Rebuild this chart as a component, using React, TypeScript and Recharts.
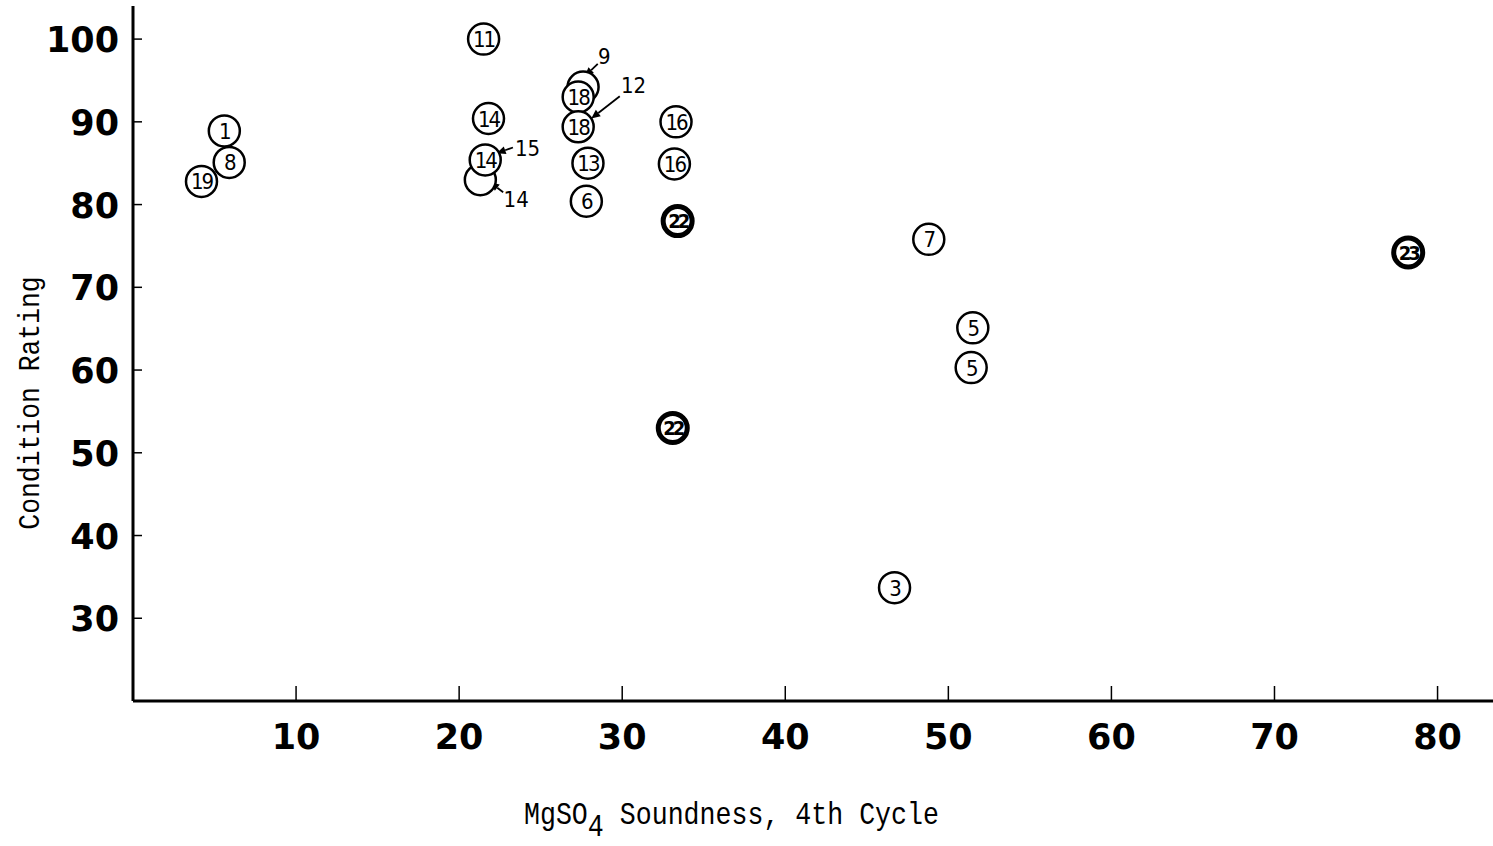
import { ScatterChart, Scatter, XAxis, YAxis, ReferenceLine } from "recharts";

// numbered sites, plain rings
const soundness = [5.6, 5.9, 4.2, 21.5, 21.8, 21.6, 27.3, 27.3, 27.9, 27.8, 33.3, 33.2, 48.8, 51.5, 51.4, 46.7];
const rating = [88.9, 85.1, 82.8, 100, 90.4, 85.4, 93.0, 89.4, 85.0, 80.4, 90.0, 84.9, 75.8, 65.1, 60.3, 33.7];
const siteNo = ["1", "8", "19", "11", "14", "14", "18", "18", "13", "6", "16", "16", "7", "5", "5", "3"];

// rings hidden behind others, numbered by a callout
const hiddenSoundness = [27.6, 21.3];
const hiddenRating = [94.2, 83.0];

// heavy rings
const heavySoundness = [33.4, 33.1, 78.2];
const heavyRating = [78.0, 53.0, 74.2];
const heavyNo = ["22", "22", "23"];

// callouts
const calloutText = ["9", "12", "15", "14"];
const calloutX = [28.9, 30.7, 24.2, 23.5];
const calloutY = [97.9, 94.4, 86.8, 80.7];
const arrowFromX = [28.5, 29.85, 23.3, 22.7];
const arrowFromY = [97.0, 93.1, 86.9, 81.5];
const arrowToX = [27.7, 28.1, 22.3, 21.9];
const arrowToY = [95.5, 90.4, 86.2, 82.7];

const xTicks = [10, 20, 30, 40, 50, 60, 70, 80];
const yTicks = [30, 40, 50, 60, 70, 80, 90, 100];

const tickFont = "'DejaVu Sans', sans-serif";
const ringFont = "'DejaVu Sans Condensed', 'DejaVu Sans', sans-serif";
const titleFont = "'Liberation Mono', monospace";

const plain = soundness.map((x, i) => ({ x, y: rating[i], no: siteNo[i] }));
const hidden = hiddenSoundness.map((x, i) => ({ x, y: hiddenRating[i], no: "" }));
const heavy = heavySoundness.map((x, i) => ({ x, y: heavyRating[i], no: heavyNo[i] }));
const callouts = calloutText.map((t, i) => ({ x: calloutX[i], y: calloutY[i], no: t }));

function Ring(props: any) {
  const { cx, cy, payload } = props;
  return (
    <g>
      <circle cx={cx} cy={cy} r={15.5} fill="#fff" stroke="#000" strokeWidth={2.5} />
      {payload.no && (
        <text x={cx} y={cy} dy={8} textAnchor="middle" fontSize={22} fontFamily={ringFont} letterSpacing={-2} fill="#000">
          {payload.no}
        </text>
      )}
    </g>
  );
}

function HeavyRing(props: any) {
  const { cx, cy, payload } = props;
  return (
    <g>
      <circle cx={cx} cy={cy} r={14.5} fill="#fff" stroke="#000" strokeWidth={5} />
      <text x={cx} y={cy} dy={7} textAnchor="middle" fontSize={20} fontWeight="bold" fontFamily={ringFont} letterSpacing={-3} fill="#000">
        {payload.no}
      </text>
    </g>
  );
}

function CalloutText(props: any) {
  const { cx, cy, payload } = props;
  return (
    <text x={cx} y={cy} dy={8} textAnchor="middle" fontSize={22} fontFamily={ringFont} fill="#000">
      {payload.no}
    </text>
  );
}

function Arrow(props: any) {
  const { x1, y1, x2, y2 } = props;
  const a = Math.atan2(y2 - y1, x2 - x1);
  const len = 9;
  const w = 4;
  const bx = x2 - len * Math.cos(a);
  const by = y2 - len * Math.sin(a);
  const pts = [
    `${x2},${y2}`,
    `${bx - w * Math.sin(a)},${by + w * Math.cos(a)}`,
    `${bx + w * Math.sin(a)},${by - w * Math.cos(a)}`,
  ].join(" ");
  return (
    <g>
      <line x1={x1} y1={y1} x2={bx} y2={by} stroke="#000" strokeWidth={1.8} />
      <polygon points={pts} fill="#000" />
    </g>
  );
}

function YTick(props: any) {
  const { x, y, payload } = props;
  return (
    <g>
      <line x1={x + 12} y1={y} x2={x + 21} y2={y} stroke="#000" strokeWidth={1.5} />
      <text x={x - 2} y={y} dy={13} textAnchor="end" fontSize={35} fontWeight="bold" fontFamily={tickFont} fill="#000">
        {payload.value}
      </text>
    </g>
  );
}

function XTick(props: any) {
  const { x, y, payload } = props;
  return (
    <g>
      <line x1={x} y1={y - 22} x2={x} y2={y - 37} stroke="#000" strokeWidth={1.5} />
      <text x={x} y={y} dy={26} textAnchor="middle" fontSize={35} fontWeight="bold" fontFamily={tickFont} fill="#000">
        {payload.value}
      </text>
    </g>
  );
}

function XTitle(props: any) {
  const { viewBox } = props;
  const x = viewBox.x + 391;
  return (
    <g transform={`translate(${x}, 824) scale(1, 1.15)`}>
      <text x={0} y={0} fontSize={26.6} fontFamily={titleFont} fill="#000">
        MgSO<tspan dy={10}>4</tspan>
        <tspan dy={-10}> Soundness, 4th Cycle</tspan>
      </text>
    </g>
  );
}

function YTitle(props: any) {
  const { viewBox } = props;
  const x = viewBox.x + 39;
  const y = 403;
  return (
    <g transform={`translate(${x}, ${y}) rotate(-90) scale(1, 1.15)`}>
      <text x={0} y={0} textAnchor="middle" fontSize={26.4} fontFamily={titleFont} fill="#000">
        Condition Rating
      </text>
    </g>
  );
}

export default function App() {
  return (
    <div style={{ background: "#fff", width: 1493, height: 846 }}>
      <style>{"html,body{margin:0;padding:0;overflow:hidden;}"}</style>
      <ScatterChart width={1493} height={846} margin={{ top: 6, right: 0, bottom: 0, left: 0 }}>
        <XAxis
          type="number"
          dataKey="x"
          domain={[0, 83.4]}
          ticks={xTicks}
          height={145}
          tickLine={false}
          tickSize={0}
          tickMargin={22}
          tick={<XTick />}
          axisLine={{ stroke: "#000", strokeWidth: 3 }}
          label={<XTitle />}
        />
        <YAxis
          type="number"
          dataKey="y"
          domain={[20, 104]}
          ticks={yTicks}
          width={133}
          tickLine={false}
          tickSize={0}
          tickMargin={12}
          tick={<YTick />}
          axisLine={{ stroke: "#000", strokeWidth: 3 }}
          label={<YTitle />}
        />
        {calloutText.map((t, i) => (
          <ReferenceLine
            key={"arrow" + i}
            segment={[
              { x: arrowFromX[i], y: arrowFromY[i] },
              { x: arrowToX[i], y: arrowToY[i] },
            ]}
            shape={(p: any) => <Arrow {...p} />}
          />
        ))}
        <Scatter data={hidden} shape={<Ring />} isAnimationActive={false} />
        <Scatter data={plain} shape={<Ring />} isAnimationActive={false} />
        <Scatter data={heavy} shape={<HeavyRing />} isAnimationActive={false} />
        <Scatter data={callouts} shape={<CalloutText />} isAnimationActive={false} />
      </ScatterChart>
    </div>
  );
}
